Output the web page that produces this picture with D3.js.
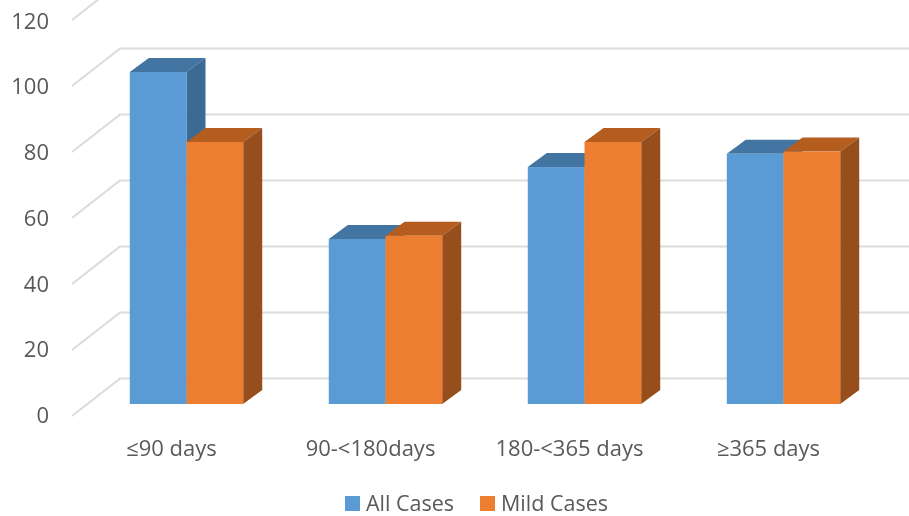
<!DOCTYPE html>
<html>
<head>
<meta charset="utf-8">
<script src="https://cdn.jsdelivr.net/npm/d3@7"></script>
<style>
    html, body { margin: 0; padding: 0; background: #fff; }
    svg { display: block; filter: blur(0.4px); }
    text { font-family: "Open Sans", sans-serif; fill: #595959; }
</style>
</head>
<body>
<div id="chart"></div>
<script>
// Values
var categories = ['≤90 days', '90-<180days', '180-<365 days', '≥365 days'];
var seriesNames = ['All Cases', 'Mild Cases'];
var allCases = [100.6, 50, 71.8, 75.8];
var mildCases = [79.4, 51, 79.4, 76.5];
var yTicks = [0, 20, 40, 60, 80, 100, 120];

var width = 909,
    height = 516;

// 3D look: the floor runs from the front edge to the back wall
var frontLeft = 72,
    backLeft = 120,
    frontFloor = 416,
    backFloor = 378.5,
    barFloor = 404,
    depthX = 19,
    depthY = 14;

var colors = {
    'All Cases': { front: '#5b9bd5', top: '#4375a2', side: '#3b6a94' },
    'Mild Cases': { front: '#ed7d31', top: '#b55d1f', side: '#964f1c' }
};

// y gives the height above the floor, so it works for every plane
var yScale = d3.scaleLinear().domain([0, 120]).range([0, 396]);

var xScale = d3.scaleBand()
    .domain(categories)
    .range([87, 883])
    .paddingInner(0.43)
    .paddingOuter(0.215);

var seriesScale = d3.scaleBand()
    .domain(seriesNames)
    .range([0, xScale.bandwidth()]);

var svg = d3.select('#chart').append('svg')
    .attr('width', width)
    .attr('height', height);

// Gridlines, left wall then back wall
svg.append('g').selectAll('path')
    .data(yTicks)
    .enter().append('path')
    .attr('fill', 'none')
    .attr('stroke', '#dcdcdc')
    .attr('stroke-width', 2.2)
    .attr('d', function(d) {
        var h = yScale(d);
        return 'M' + frontLeft + ',' + (frontFloor - h) +
            'L' + backLeft + ',' + (backFloor - h) +
            'L' + width + ',' + (backFloor - h);
    });

// Y axis labels
var yAxis = d3.axisLeft(d3.scaleLinear().domain([0, 120]).range([415.5, 21]))
    .tickValues(yTicks)
    .tickSize(0)
    .tickPadding(0);

svg.append('g')
    .attr('transform', 'translate(49,0)')
    .call(yAxis)
    .call(function(g) { g.select('.domain').remove(); })
    .selectAll('text')
    .style('font-size', '22px')
    .style('font-family', '"Open Sans", sans-serif');

// Flatten to one row per bar, in drawing order
var bars = [];
categories.forEach(function(c, i) {
    bars.push({ category: c, series: seriesNames[0], value: allCases[i] });
    bars.push({ category: c, series: seriesNames[1], value: mildCases[i] });
});

var barG = svg.append('g').selectAll('g')
    .data(bars)
    .enter().append('g')
    .each(function(d) {
        var g = d3.select(this);
        var x0 = xScale(d.category) + seriesScale(d.series),
            x1 = x0 + seriesScale.bandwidth(),
            y0 = barFloor - yScale(d.value),
            c = colors[d.series];

        g.append('path')
            .attr('fill', c.top)
            .attr('d', 'M' + x0 + ',' + y0 + 'L' + (x0 + depthX) + ',' + (y0 - depthY) +
                'L' + (x1 + depthX) + ',' + (y0 - depthY) + 'L' + x1 + ',' + y0 + 'Z');
        g.append('path')
            .attr('fill', c.side)
            .attr('d', 'M' + x1 + ',' + y0 + 'L' + (x1 + depthX) + ',' + (y0 - depthY) +
                'L' + (x1 + depthX) + ',' + (barFloor - depthY) + 'L' + x1 + ',' + barFloor + 'Z');
        g.append('rect')
            .attr('fill', c.front)
            .attr('x', x0)
            .attr('y', y0)
            .attr('width', x1 - x0)
            .attr('height', barFloor - y0);
    });

// Category labels sit a little left of their bars
svg.append('g').selectAll('text')
    .data(categories)
    .enter().append('text')
    .attr('x', function(d) { return xScale(d) + xScale.bandwidth() / 2 - 15; })
    .attr('y', 456)
    .attr('text-anchor', 'middle')
    .style('font-size', '22px')
    .text(function(d) { return d; });

// Legend
var legendX = { 'All Cases': 345, 'Mild Cases': 480 };
var legend = svg.append('g').selectAll('g')
    .data(seriesNames)
    .enter().append('g')
    .attr('transform', function(d) { return 'translate(' + legendX[d] + ',496)'; });

legend.append('rect')
    .attr('width', 15)
    .attr('height', 15)
    .attr('fill', function(d) { return colors[d].front; });

legend.append('text')
    .attr('x', 21)
    .attr('y', 15)
    .style('font-size', '21.5px')
    .text(function(d) { return d; });
</script>
</body>
</html>
